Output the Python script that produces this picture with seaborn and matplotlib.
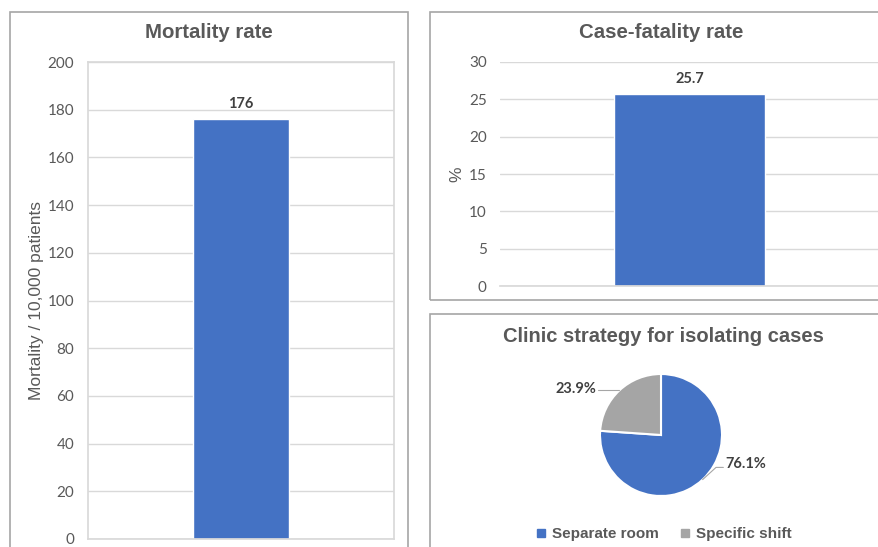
import matplotlib
matplotlib.use("Agg")
import matplotlib.pyplot as plt
from matplotlib.patches import Rectangle
import numpy as np
import pandas as pd
import seaborn as sns

# data
mortality_cat = ["All clinics"]
mortality_val = [176]
cfr_cat = ["All clinics"]
cfr_val = [25.7]
iso_labels = ["Separate room", "Specific shift"]
iso_share = [76.1, 23.9]

BLUE = "#4472C4"
GREY = "#A5A5A5"
TXT = "#595959"
GRID = "#D9D9D9"
W, H = 879, 547

sns.set_theme(style="white")
plt.rcParams["font.family"] = ["Liberation Sans", "DejaVu Sans"]

fig = plt.figure(figsize=(W / 100, H / 100), dpi=100)


def px_axes(x0, y0, x1, y1):
    # pixel box (top-left origin) -> figure axes
    return fig.add_axes([x0 / W, 1 - y1 / H, (x1 - x0) / W, (y1 - y0) / H])


def panel(x0, y0, x1, y1):
    fig.patches.append(Rectangle((x0 / W, 1 - y1 / H), (x1 - x0) / W, (y1 - y0) / H,
                                 transform=fig.transFigure, fill=False,
                                 edgecolor="#A6A6A6", linewidth=1.2))


def style_bar_axes(ax, ticks, frame, pad):
    ax.set_yticks(ticks)
    ax.set_xticks([])
    ax.set_xlabel("")
    ax.grid(axis="y", color=GRID, linewidth=1.0)
    ax.set_axisbelow(True)
    for s in ax.spines.values():
        s.set_visible(frame)
        s.set_color(GRID)
    ax.spines["bottom"].set_visible(True)
    ax.spines["bottom"].set_color(GRID)
    ax.tick_params(axis="y", length=0, pad=pad, labelsize=11, labelcolor=TXT)
    for lab in ax.get_yticklabels():
        lab.set_fontfamily(["Lato", "DejaVu Sans"])


panel(10, 12, 408, 560)
panel(430, 12, 893, 300)
panel(430, 314, 893, 560)

# Mortality rate
ax1 = px_axes(88, 62, 394, 539)
df1 = pd.DataFrame({"cat": mortality_cat, "val": mortality_val})
sns.barplot(data=df1, x="cat", y="val", color=BLUE, width=0.314, saturation=1, ax=ax1)
ax1.set_ylim(0, 200)
style_bar_axes(ax1, range(0, 201, 20), True, 10)
ax1.set_ylabel("Mortality / 10,000 patients", fontsize=12.5, color=TXT)
ax1.yaxis.set_label_coords((37 - 88) / 306, 0.5)
ax1.yaxis.label.set_va("center")
ax1.bar_label(ax1.containers[0], fmt="%d", padding=6, fontsize=10.5,
              fontweight="bold", color="#404040", family=["Lato", "DejaVu Sans"])
fig.text(209 / W, 1 - 33 / H, "Mortality rate", ha="center", va="center",
         fontsize=14.7, fontweight="bold", color=TXT)

# Case-fatality rate
ax2 = px_axes(500, 62, 879, 286)
df2 = pd.DataFrame({"cat": cfr_cat, "val": cfr_val})
sns.barplot(data=df2, x="cat", y="val", color=BLUE, width=0.4, saturation=1, ax=ax2)
ax2.set_ylim(0, 30)
style_bar_axes(ax2, range(0, 31, 5), False, 9.5)
ax2.set_ylabel("%", fontsize=12.5, color=TXT)
ax2.yaxis.set_label_coords((457 - 500) / 379, 0.5)
ax2.yaxis.label.set_va("center")
ax2.bar_label(ax2.containers[0], fmt="%.1f", padding=6, fontsize=10.5,
              fontweight="bold", color="#404040", family=["Lato", "DejaVu Sans"])
fig.text(661 / W, 1 - 33 / H, "Case-fatality rate", ha="center", va="center",
         fontsize=14.7, fontweight="bold", color=TXT)

# Pie
fig.text(663 / W, 1 - 337 / H, "Clinic strategy for isolating cases", ha="center",
         va="center", fontsize=14.5, fontweight="bold", color=TXT)
R = 61
ax3 = px_axes(511, 360, 811, 510)
wedges, _ = ax3.pie(iso_share, colors=[BLUE, GREY], startangle=90, counterclock=False,
                    wedgeprops=dict(edgecolor="white", linewidth=1.5))
ax3.set_xlim(-150 / R, 150 / R)
ax3.set_ylim(-75 / R, 75 / R)
ax3.set_aspect("auto")
for w, share in zip(wedges, iso_share):
    ang = np.deg2rad((w.theta1 + w.theta2) / 2)
    x, y = np.cos(ang), np.sin(ang)
    if x > 0:
        xt, yt = x + 0.22, y + 0.2
        pts = [(x, y), (xt, yt), (xt + 0.12, yt)]
        tx, ty, ha = xt + 0.15, yt + 0.06, "left"
    else:
        pts = [(x, y), (x - 0.35, y)]
        tx, ty, ha = x - 0.38, y + 0.03, "right"
    ax3.plot([p[0] for p in pts], [p[1] for p in pts], color="#A6A6A6", lw=0.8)
    ax3.text(tx, ty, f"{share:.1f}%", ha=ha, va="center", fontsize=10.5,
             fontweight="bold", color="#404040", family=["Lato", "DejaVu Sans"])

# square legend handles, like the Excel original
handles = [plt.Line2D([], [], marker="s", linestyle="", markersize=5.5, color=c)
           for c in [BLUE, GREY]]
fig.legend(handles, iso_labels, loc="center", bbox_to_anchor=(664 / W, 1 - 534 / H),
           ncol=2, frameon=False, handlelength=0.6, columnspacing=1.4,
           handletextpad=0.4, prop=dict(family="Liberation Sans", weight="bold", size=11),
           labelcolor=TXT)

fig.savefig("out.png", dpi=100)
